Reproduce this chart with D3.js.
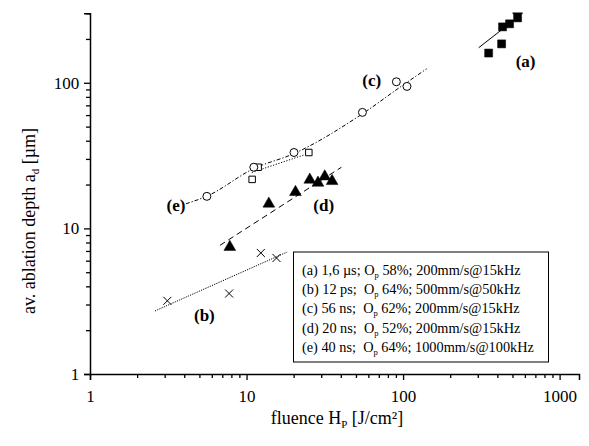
<!DOCTYPE html>
<html>
<head>
<meta charset="utf-8">
<script src="https://cdn.jsdelivr.net/npm/d3@7"></script>
<style>
  body { margin: 0; background: #fff; }
  svg text { font-family: "Liberation Serif", "Times New Roman", serif; fill: #000; }
</style>
</head>
<body>
<svg id="chart" width="589" height="446"></svg>
<script>
// (a) 1,6 us - filled squares
var seriesA = [[352, 160], [426, 185], [432, 242], [479, 254], [539, 279]];
var fitA = [[304, 174], [563, 292]];
// (b) 12 ps - crosses
var seriesB = [[3.12, 3.18], [7.74, 3.57], [12.34, 6.78], [15.54, 6.26]];
var fitB = [[2.60, 2.71], [18.16, 6.88]];
// (c) 56 ns - open circles
var seriesC = [[5.58, 16.6], [11.13, 26.3], [20.1, 33.2], [55.0, 62.6], [90.6, 101.6], [105.9, 94.4]];
var fitC = [[4.10, 14.76], [5.58, 16.64], [11.13, 25.76], [20.04, 32.6], [55.2, 61.4], [95.1, 92.9], [141.5, 124.7]];
// (d) 20 ns - filled triangles
var seriesD = [[7.82, 7.45], [13.88, 14.76], [20.54, 17.74], [25.35, 21.56], [28.6, 20.56], [31.6, 22.7], [35.2, 21.1]];
var fitD = [[6.76, 7.65], [40.4, 26.3]];
// (e) 40 ns - open squares
var seriesE = [[10.86, 21.7], [11.86, 26.3], [25.0, 33.2]];
var fitE = [[10.81, 24.2], [23.6, 32.1]];

var xMajor = [1, 10, 100, 1000];
var yMajor = [1, 10, 100];
var curveLabels = [
  {text: "(a)", x: 606, y: 128.7},
  {text: "(b)", x: 5.38, y: 2.31},
  {text: "(c)", x: 63.0, y: 95.3},
  {text: "(d)", x: 31.1, y: 13.1},
  {text: "(e)", x: 3.54, y: 13.1}
];
var legendRows = [
  ["(a) 1,6 \u00b5s; O", "p", " 58%; 200mm/s@15kHz"],
  ["(b) 12 ps;  O", "p", " 64%; 500mm/s@50kHz"],
  ["(c) 56 ns;  O", "p", " 62%; 200mm/s@15kHz"],
  ["(d) 20 ns;  O", "p", " 52%; 200mm/s@15kHz"],
  ["(e) 40 ns;  O", "p", " 64%; 1000mm/s@100kHz"]
];

var svg = d3.select("#chart");
var x = d3.scaleLog().domain([1, 1330]).range([90, 579]);
var y = d3.scaleLog().domain([1, 300]).range([374, 13.3]);

function minors(domain) {
  var out = [];
  for (var d = 1; d < domain[1]; d *= 10)
    for (var k = 2; k <= 9; k++) if (k * d <= domain[1]) out.push(k * d);
  return out;
}

// axes
var gx = svg.append("g").attr("transform", "translate(0,374)");
gx.call(d3.axisBottom(x).tickValues(minors(x.domain())).tickSize(4).tickFormat(""));
gx.append("g").call(d3.axisBottom(x).tickValues(xMajor).tickSize(6).tickFormat(d3.format("d")));
var gy = svg.append("g").attr("transform", "translate(90,0)");
gy.call(d3.axisLeft(y).tickValues(minors(y.domain())).tickSize(4).tickFormat(""));
gy.append("g").call(d3.axisLeft(y).tickValues(yMajor).tickSize(6).tickFormat(d3.format("d")));
svg.selectAll(".domain").attr("stroke", "#000").attr("stroke-width", 1.5);
svg.selectAll(".tick line").attr("stroke", "#000").attr("stroke-width", 1.3);
gx.selectAll(".tick text").attr("font-size", 17).attr("dy", "1.1em")
  .style("font-family", "Liberation Serif");
gy.selectAll(".tick text").attr("font-size", 17).attr("dx", "-0.1em")
  .style("font-family", "Liberation Serif");
gx.select("g .domain").remove();
gy.select("g .domain").remove();

// axis titles
var xt = svg.append("text").attr("x", 337).attr("y", 424).attr("text-anchor", "middle").attr("font-size", 18);
xt.append("tspan").text("fluence H");
xt.append("tspan").attr("font-size", 11).attr("dy", 4).text("P");
xt.append("tspan").attr("dy", -4).text(" [J/cm\u00b2]");

var yt = svg.append("text").attr("transform", "translate(35,221) rotate(-90)").attr("text-anchor", "middle").attr("font-size", 18);
yt.append("tspan").text("av. ablation depth a");
yt.append("tspan").attr("font-size", 11).attr("dy", 4).text("d");
yt.append("tspan").attr("dy", -4).text(" [\u00b5m]");

// fit lines
var line = d3.line().x(function(d) { return x(d[0]); }).y(function(d) { return y(d[1]); });
var fits = [
  {data: fitA, dash: null},
  {data: fitB, dash: "1.2,1.2"},
  {data: fitC, dash: "4,2,1.2,2", curve: true},
  {data: fitD, dash: "6,4"},
  {data: fitE, dash: "1.2,1.6"}
];
fits.forEach(function(f) {
  svg.append("path")
    .attr("d", (f.curve ? line.curve(d3.curveMonotoneX) : line.curve(d3.curveLinear))(f.data))
    .attr("fill", "none").attr("stroke", "#000").attr("stroke-width", 1)
    .attr("stroke-dasharray", f.dash);
});

// error bar on top (a) point
var last = seriesA[seriesA.length - 1];
svg.append("path")
  .attr("d", "M" + x(last[0]) + "," + y(last[1]) + "V" + y(300) + "M" + (x(last[0]) - 5) + "," + y(300) + "H" + (x(last[0]) + 5))
  .attr("stroke", "#000").attr("stroke-width", 1.5).attr("fill", "none");

// markers
function symbols(data, type, size, filled) {
  svg.append("g").selectAll("path").data(data).join("path")
    .attr("transform", function(d) { return "translate(" + x(d[0]) + "," + y(d[1]) + ")"; })
    .attr("d", d3.symbol().type(type).size(size))
    .attr("fill", filled ? "#000" : "#fff")
    .attr("stroke", "#000").attr("stroke-width", filled ? 0.5 : 1);
}
symbols(seriesA, d3.symbolSquare, 64, true);
symbols(seriesE, d3.symbolSquare, 42, false);
symbols(seriesC, d3.symbolCircle, 50, false);
symbols(seriesD, d3.symbolTriangle, 60, true);
svg.append("g").selectAll("path").data(seriesB).join("path")
  .attr("transform", function(d) { return "translate(" + x(d[0]) + "," + y(d[1]) + ")"; })
  .attr("d", "M-4,-4L4,4M-4,4L4,-4")
  .attr("stroke", "#000").attr("stroke-width", 1).attr("fill", "none");

// curve labels
svg.append("g").selectAll("text").data(curveLabels).join("text")
  .attr("x", function(d) { return x(d.x); }).attr("y", function(d) { return y(d.y); })
  .attr("font-size", 17).attr("font-weight", "bold").attr("text-anchor", "middle")
  .text(function(d) { return d.text; });

// legend
var lg = svg.append("g");
lg.append("rect").attr("x", 293.5).attr("y", 252).attr("width", 255).attr("height", 110)
  .attr("fill", "#fff").attr("stroke", "#000").attr("stroke-width", 1);
legendRows.forEach(function(r, i) {
  var t = lg.append("text").attr("x", 302).attr("y", 275 + i * 19.2).attr("font-size", 14.3)
    .attr("xml:space", "preserve").style("white-space", "pre");
  t.append("tspan").text(r[0]);
  t.append("tspan").attr("font-size", 8.5).attr("dy", 3).text(r[1]);
  t.append("tspan").attr("dy", -3).text(r[2]);
});
</script>
</body>
</html>
